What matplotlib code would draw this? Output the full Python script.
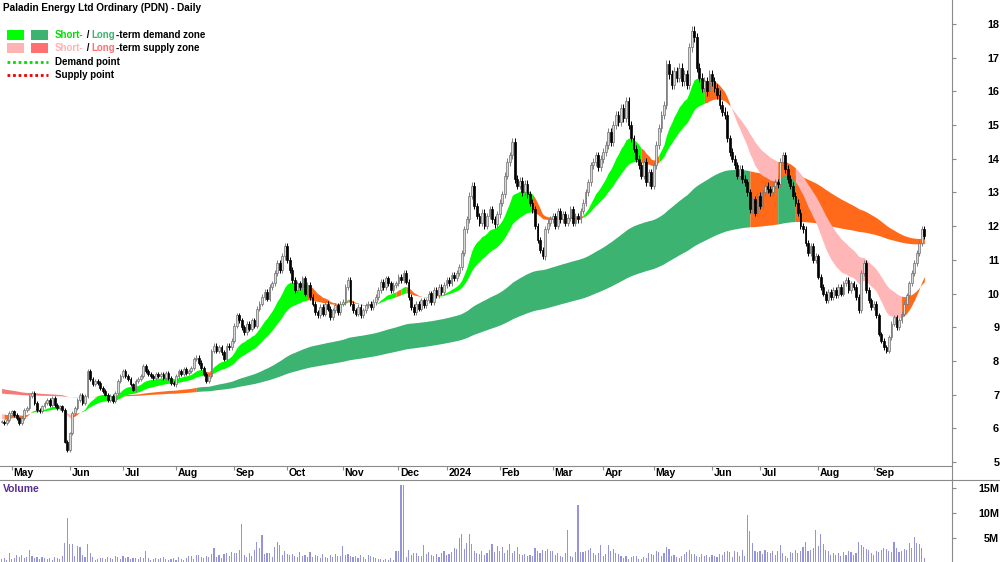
import numpy as np
import matplotlib
matplotlib.use('Agg')
import matplotlib.pyplot as plt
from matplotlib.lines import Line2D
from matplotlib.patches import Rectangle

plt.rcParams['font.family'] = ['Liberation Sans', 'DejaVu Sans']

W, H = 1000, 562

title = 'Paladin Energy Ltd Ordinary (PDN) - Daily'
month_labels = ['May', 'Jun', 'Jul', 'Aug', 'Sep', 'Oct', 'Nov', 'Dec', '2024',
                'Feb', 'Mar', 'Apr', 'May', 'Jun', 'Jul', 'Aug', 'Sep']
# bar index of the first trading day of each month
month_starts = [4, 27, 48, 69, 92, 113, 135, 157, 176, 197, 218, 238, 258, 281, 300, 323, 345]

# daily closes, late Apr 2023 -> 30 Sep 2024
closes = [
    6.20, 6.15, 6.25, 6.45, 6.50, 6.40, 6.30, 6.15, 6.30, 6.55,
    6.60, 6.95, 7.05, 6.75, 6.55, 6.50, 6.65, 6.75, 6.85, 6.70,
    6.90, 6.70, 6.60, 6.65, 6.55, 5.60, 5.35, 5.85, 6.45, 6.60,
    6.85, 7.00, 6.75, 6.95, 7.70, 7.45, 7.30, 7.40, 7.35, 7.20,
    7.10, 7.00, 6.85, 6.95, 6.80, 7.05, 7.40, 7.55, 7.70, 7.55,
    7.45, 7.30, 7.15, 7.40, 7.45, 7.55, 7.85, 7.70, 7.60, 7.55,
    7.50, 7.60, 7.55, 7.60, 7.50, 7.65, 7.50, 7.35, 7.30, 7.55,
    7.70, 7.60, 7.75, 7.65, 7.70, 7.80, 8.05, 8.10, 7.95, 7.80,
    7.60, 7.40, 7.55, 8.30, 8.45, 8.30, 8.40, 8.25, 8.05, 8.45,
    8.40, 8.60, 9.05, 9.35, 9.20, 9.00, 8.85, 9.10, 8.95, 9.20,
    9.05, 9.55, 9.70, 9.90, 10.05, 9.85, 10.20, 10.30, 10.60, 10.90,
    10.70, 11.10, 11.40, 11.00, 10.70, 10.40, 10.10, 10.30, 10.20, 10.45,
    10.00, 10.25, 9.90, 9.70, 9.45, 9.35, 9.60, 9.40, 9.70, 9.55,
    9.30, 9.50, 9.65, 9.45, 9.70, 9.75, 10.20, 10.40, 9.70, 9.50,
    9.40, 9.60, 9.35, 9.50, 9.65, 9.70, 9.60, 9.75, 9.90, 10.10,
    10.35, 10.20, 10.45, 10.30, 10.10, 10.25, 10.30, 10.50, 10.40, 10.60,
    10.35, 9.90, 9.60, 9.45, 9.70, 9.55, 9.80, 9.65, 9.80, 10.00,
    9.75, 10.10, 9.95, 10.20, 10.05, 10.25, 10.40, 10.30, 10.55, 10.45,
    10.60, 10.80, 11.20, 11.90, 12.20, 12.90, 13.20, 12.60, 12.30, 12.10,
    12.40, 12.00, 12.30, 12.50, 12.20, 12.05, 12.35, 12.70, 12.95, 13.50,
    13.90, 14.10, 14.50, 13.40, 13.20, 13.35, 13.00, 13.25, 12.95, 12.70,
    12.50, 12.00, 11.60, 11.30, 11.10, 11.90, 12.10, 12.20, 12.30, 12.00,
    12.45, 12.20, 12.35, 12.10, 12.25, 12.50, 12.10, 12.30, 12.20, 12.45,
    12.70, 13.00, 13.30, 13.80, 13.90, 14.10, 13.75, 14.00, 14.20, 14.40,
    14.80, 14.50, 15.00, 15.30, 15.10, 15.50, 15.20, 15.70, 15.00, 14.60,
    14.30, 14.00, 13.80, 13.50, 13.90, 13.30, 13.60, 13.20, 13.80, 14.40,
    14.90, 15.30, 15.60, 16.80, 16.50, 16.20, 16.60, 16.40, 16.70, 16.30,
    16.50, 16.20, 17.30, 17.80, 17.60, 16.70, 16.40, 16.10, 16.30, 16.00,
    16.50, 16.30, 16.10, 15.90, 15.60, 15.40, 15.30, 14.60, 14.20, 14.00,
    13.80, 13.50, 13.70, 13.40, 13.30, 13.00, 12.50, 12.80, 12.40, 12.90,
    12.60, 13.00, 13.20, 13.10, 13.00, 13.20, 13.30, 13.25, 13.90, 14.10,
    13.70, 13.40, 13.20, 12.90, 12.70, 12.40, 12.00, 11.90, 11.50, 11.20,
    11.40, 11.00, 11.10, 10.50, 10.20, 10.00, 9.80, 10.05, 9.90, 10.10,
    9.95, 10.20, 10.00, 10.30, 10.40, 10.10, 10.30, 10.20, 9.90, 9.50,
    10.60, 10.90, 10.10, 9.80, 9.60, 9.70, 9.35, 8.80, 8.60, 8.40,
    8.30, 8.70, 9.10, 9.30, 9.00, 9.20, 9.40, 9.70, 9.95, 10.30,
    10.60, 10.90, 11.20, 11.50, 11.90, 11.70,
]

# daily volume, millions of shares
volume_m = [
    0.9, 1.0, 0.6, 2.1, 0.8, 1.1, 1.6, 1.2, 1.7, 1.0,
    1.3, 2.7, 1.4, 1.1, 1.2, 0.9, 1.3, 1.0, 0.8, 1.1,
    0.7, 1.2, 1.0, 0.9, 1.5, 4.1, 9.1, 3.9, 3.8, 1.4,
    3.4, 3.3, 1.6, 1.2, 3.9, 2.0, 1.3, 0.7, 0.8, 1.0,
    1.1, 0.9, 1.3, 1.1, 0.8, 1.5, 1.2, 0.9, 1.4, 1.0,
    1.3, 0.8, 1.1, 1.0, 0.9, 1.2, 1.1, 2.5, 1.0, 0.7,
    0.9, 1.1, 0.8, 1.0, 1.2, 0.9, 0.7, 0.8, 1.0, 0.6,
    1.3, 0.9, 0.6, 1.1, 1.5, 1.4, 0.8, 1.6, 1.7, 1.2,
    1.0, 1.4, 1.3, 1.8, 3.1, 1.2, 1.6, 1.1, 1.9, 2.0,
    1.4, 2.2, 2.0, 2.1, 2.6, 7.8, 1.6, 1.2, 2.1, 1.5,
    2.6, 4.3, 3.0, 5.6, 1.8, 2.0, 2.1, 1.3, 3.2, 4.3,
    3.6, 1.7, 2.5, 1.9, 1.6, 1.8, 1.4, 1.2, 2.3, 1.5,
    1.7, 1.2, 2.2, 1.3, 1.6, 1.4, 1.1, 1.9, 1.2, 1.0,
    1.6, 1.3, 1.9, 1.5, 1.4, 3.4, 1.7, 1.8, 1.5, 1.3,
    1.4, 1.0, 1.6, 1.2, 0.9, 1.7, 1.5, 1.2, 1.0, 0.8,
    0.9, 0.7, 0.8, 0.6, 1.0, 0.7, 2.4, 2.4, 15.6, 15.6,
    1.3, 2.7, 1.6, 2.0, 2.1, 1.4, 1.5, 3.6, 1.8, 2.3,
    1.7, 1.5, 1.9, 1.3, 2.1, 2.4, 1.6, 1.8, 2.2, 3.0,
    2.8, 5.1, 5.9, 2.9, 4.1, 5.8, 3.9, 2.4, 2.0, 1.8,
    2.5, 1.7, 2.1, 2.6, 3.9, 2.2, 3.5, 2.4, 3.3, 2.0,
    2.6, 3.8, 2.1, 2.5, 3.3, 1.9, 1.6, 1.8, 1.5, 1.7,
    1.4, 3.0, 2.4, 2.1, 2.6, 2.4, 2.8, 2.5, 2.5, 1.7,
    2.1, 1.4, 1.3, 2.0, 6.6, 1.5, 1.2, 2.3, 11.6, 2.2,
    2.3, 2.4, 2.6, 3.0, 2.0, 1.6, 2.1, 3.6, 1.5, 1.9,
    3.6, 2.4, 2.8, 2.0, 1.8, 1.5, 1.0, 1.4, 0.9, 1.2,
    1.5, 1.4, 0.8, 0.9, 1.2, 1.0, 2.0, 1.9, 1.6, 2.4,
    2.2, 1.5, 2.0, 3.3, 2.8, 1.4, 1.6, 1.2, 1.1, 1.5,
    1.8, 2.3, 2.6, 1.9, 1.8, 1.5, 1.3, 1.8, 1.4, 1.6,
    1.2, 1.7, 1.5, 1.3, 1.9, 1.6, 2.3, 2.4, 2.2, 1.3,
    2.5, 2.2, 1.4, 2.6, 1.5, 9.6, 6.5, 4.1, 2.4, 2.3,
    2.5, 1.8, 2.6, 2.2, 2.0, 2.5, 1.7, 2.4, 3.7, 2.1,
    1.4, 1.0, 2.3, 2.1, 2.6, 2.0, 2.4, 3.2, 4.3, 2.5,
    2.7, 3.0, 6.6, 3.5, 5.9, 3.9, 2.7, 2.5, 1.7, 2.1,
    1.6, 2.0, 1.4, 2.2, 1.7, 2.5, 2.3, 1.6, 2.0, 4.3,
    3.6, 3.2, 2.9, 2.6, 2.0, 1.6, 2.4, 2.2, 2.6, 3.0,
    2.8, 2.5, 2.3, 4.3, 3.0, 2.2, 2.5, 2.8, 2.6, 4.0,
    3.1, 5.3, 4.1, 3.9, 3.0, 1.0,
]

# zone averages: starting values of (fast, slow)
short_seed = (6.30, 6.45)
long_seed = (7.20, 7.05)
short_spans = (16, 34)
long_spans = (125, 250)

# zone state changes (bar index, state): D demand, S supply, W weak supply
short_states = [(0, 'S'), (1, 'W'), (12, 'D'), (24, 'S'), (28, 'W'), (32, 'D'),
                (80, 'W'), (83, 'D'), (121, 'W'), (134, 'D'), (137, 'W'), (148, 'D'),
                (156, 'W'), (158, 'D'), (160, 'W'), (173, 'D'), (210, 'W'), (230, 'D'),
                (253, 'W'), (260, 'D'), (278, 'W'), (288, 'S'), (307, 'W'), (314, 'S'),
                (356, 'W')]
long_states = [(0, 'S'), (32, 'W'), (77, 'D'), (296, 'W'), (307, 'D'), (314, 'W')]

SHORT_COL = {'D': '#00ff00', 'S': '#ffb6b6', 'W': '#ff6a1a'}
LONG_COL = {'D': '#3cb371', 'S': '#f47a7a', 'W': '#ff6a1a'}
AXIS_COL = '#8a8a8a'


def ema(values, span, seed):
    """Exponential moving average started from a seed value."""
    alpha = 2.0 / (span + 1)
    out = []
    v = seed
    for x in values:
        v = v + alpha * (x - v)
        out.append(v)
    return np.array(out)


def draw_zone(ax, idx, fast, slow, states, colors, z):
    n = len(idx)
    for k, (start, state) in enumerate(states):
        end = states[k + 1][0] if k + 1 < len(states) else n - 1
        sl = slice(start, end + 1)
        ax.fill_between(idx[sl], fast[sl], slow[sl], color=colors[state],
                        linewidth=0, zorder=z)


def chain_text(fig, x_px, y_px, parts, size):
    renderer = fig.canvas.get_renderer()
    x = x_px
    for s, col in parts:
        t = fig.text(x / W, 1 - y_px / H, s, color=col, fontsize=size,
                     fontweight='bold', va='center', ha='left')
        x += t.get_window_extent(renderer).width


c = np.array(closes)
o = np.concatenate([[c[0]], c[:-1]])
idx = np.arange(len(c), dtype=float)
wick = 0.008 * c
hi = np.maximum(o, c) + wick
lo = np.minimum(o, c) - wick

xmin = -1.6 / 2.528
xmax = (952 - 1.6) / 2.528

fig = plt.figure(figsize=(W / 100, H / 100), dpi=100)

# price panel
ax = fig.add_axes([0, 1 - 466 / H, 952 / W, 466 / H])
ax.set_xlim(xmin, xmax)
ax.set_ylim(5 - 4 / 33.7, 5 + 462 / 33.7)

s_fast = ema(c, short_spans[0], short_seed[0])
s_slow = ema(c, short_spans[1], short_seed[1])
l_fast = ema(c, long_spans[0], long_seed[0])
l_slow = ema(c, long_spans[1], long_seed[1])
draw_zone(ax, idx, l_fast, l_slow, long_states, LONG_COL, 1)
draw_zone(ax, idx, s_fast, s_slow, short_states, SHORT_COL, 2)

up = c >= o
ax.vlines(idx[up], lo[up], hi[up], color='#808080', linewidth=0.7, zorder=3)
ax.vlines(idx[~up], lo[~up], hi[~up], color='black', linewidth=0.7, zorder=3)
body = np.maximum(np.abs(c - o), 0.03)
ax.bar(idx[up], body[up], bottom=np.minimum(o, c)[up], width=0.7,
       color='#d9d9d9', edgecolor='#6f6f6f', linewidth=0.5, zorder=4)
ax.bar(idx[~up], body[~up], bottom=np.minimum(o, c)[~up], width=0.7,
       color='black', edgecolor='black', linewidth=0.5, zorder=4)

for side in ['top', 'left', 'right']:
    ax.spines[side].set_visible(False)
ax.spines['bottom'].set_color(AXIS_COL)
ax.spines['bottom'].set_linewidth(0.8)
ax.yaxis.tick_right()
ax.set_yticks(range(5, 19))
ax.tick_params(axis='y', direction='out', length=3, color=AXIS_COL,
               pad=31, labelsize=7.8)
for lbl in ax.get_yticklabels():
    lbl.set_horizontalalignment('right')
    lbl.set_fontweight('bold')
ax.set_xticks(month_starts)
ax.set_xticklabels([])
ax.tick_params(axis='x', direction='out', length=3, color=AXIS_COL)
for pos, lab in zip(month_starts, month_labels):
    ax.annotate(lab, xy=(pos, 0), xycoords=('data', 'axes fraction'),
                xytext=(1.2, -5.2), textcoords='offset points',
                ha='left', va='center', fontsize=7.5, fontweight='bold')

# volume panel
vax = fig.add_axes([0, 0, 952 / W, 82 / H])
vax.set_xlim(xmin, xmax)
vax.set_ylim(0.2, 16.6)
vax.bar(idx, volume_m, width=0.45, color='#9494dc', linewidth=0)
for side in ['top', 'left', 'right', 'bottom']:
    vax.spines[side].set_visible(False)
vax.set_xticks([])
vax.yaxis.tick_right()
vax.set_yticks([5, 10, 15])
vax.set_yticklabels(['5M', '10M', '15M'])
vax.tick_params(axis='y', direction='out', length=3, color=AXIS_COL,
                pad=31, labelsize=7.8)
for lbl in vax.get_yticklabels():
    lbl.set_horizontalalignment('right')
    lbl.set_fontweight('bold')
vax.text(3 / 952, 1 - 9 / 82, 'Volume', transform=vax.transAxes, ha='left',
         va='center', fontsize=7.5, fontweight='bold', color='#5a2d91')

# frame lines
fig.add_artist(Line2D([0, 1], [1 - 480 / H] * 2, transform=fig.transFigure,
                      color=AXIS_COL, linewidth=0.8))
fig.add_artist(Line2D([952 / W] * 2, [0, 1], transform=fig.transFigure,
                      color=AXIS_COL, linewidth=0.8))

# title and legend
fig.text(3 / W, 1 - 8 / H, title, fontsize=7.2, fontweight='bold',
         ha='left', va='center')
legend_rows = [
    (35, SHORT_COL['D'], LONG_COL['D'],
     [('Short-', '#00e000'), (' / ', 'black'), ('Long', LONG_COL['D']),
      ('-term demand zone', 'black')]),
    (48, '#ffb3b3', '#ff7070',
     [('Short-', '#ffb3b3'), (' / ', 'black'), ('Long', '#ff7070'),
      ('-term supply zone', 'black')]),
]
for y, c1, c2, parts in legend_rows:
    for x0, col in [(7, c1), (31, c2)]:
        fig.add_artist(Rectangle((x0 / W, 1 - (y + 5) / H), 17 / W, 10 / H,
                                 transform=fig.transFigure, color=col, linewidth=0))
    chain_text(fig, 55, y, parts, 7.0)
for y, col, lab in [(62, '#00dd00', 'Demand point'), (75, '#ee0000', 'Supply point')]:
    fig.add_artist(Line2D([7 / W, 48 / W], [1 - y / H] * 2, transform=fig.transFigure,
                          color=col, linewidth=2, linestyle=(0, (1, 1))))
    fig.text(55 / W, 1 - y / H, lab, fontsize=7.0, fontweight='bold',
             ha='left', va='center')

fig.savefig('out.png', dpi=100)
